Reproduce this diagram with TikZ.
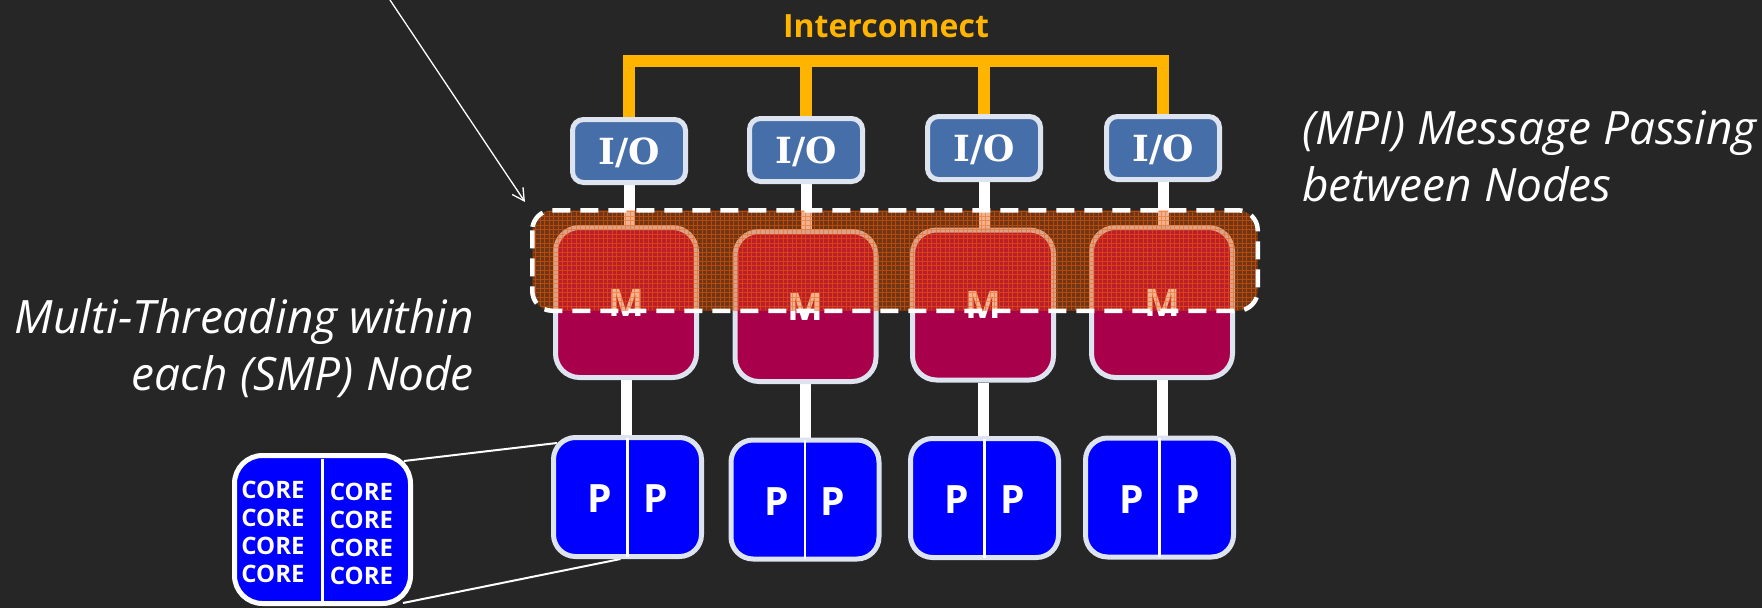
\documentclass[tikz,border=0pt]{standalone}
\usepackage{fontspec}
\setmainfont{Open Sans}
\newfontfamily\iofont{DejaVu Serif}
\usetikzlibrary{arrows.meta,backgrounds,calc}
\definecolor{bgc}{RGB}{38,38,38}
\definecolor{busc}{RGB}{255,180,0}
\definecolor{iofill}{RGB}{70,110,168}
\definecolor{boxedge}{RGB}{221,227,239}
\definecolor{memfill}{RGB}{168,0,75}
\definecolor{pfill}{RGB}{0,0,255}
\definecolor{ovfill}{RGB}{210,75,0}
\definecolor{ovgrid}{RGB}{255,95,0}
\begin{document}
\begin{tikzpicture}[x=1pt,y=-1pt,
  iobox/.style={draw=boxedge, line width=5pt, fill=iofill, rounded corners=11pt,
    minimum width=113pt, minimum height=63pt, inner sep=0pt, text depth=0pt, text=white,
    font=\iofont\bfseries\fontsize{36}{36}\selectfont},
  membox/.style={draw=boxedge, line width=5pt, fill=memfill, rounded corners=24pt,
    minimum width=141pt, minimum height=150pt, inner sep=0pt, text=white,
    font=\bfseries\fontsize{38}{38}\selectfont},
  procbox/.style={draw=boxedge, line width=5pt, fill=pfill, rounded corners=22pt,
    minimum width=148pt, minimum height=119pt, inner sep=0pt},
  corebox/.style={draw=white, line width=5pt, fill=pfill, rounded corners=28pt,
    minimum width=176pt, minimum height=148pt, inner sep=0pt},
  plabel/.style={text=white, font=\bfseries\fontsize{39}{39}\selectfont, inner sep=0pt},
  corecol/.style={text=white, font=\bfseries\fontsize{24}{28}\selectfont, inner sep=0pt, align=center},
  divider/.style={draw=white, line width=2.5pt},
  wire/.style={draw=white, line width=11pt},
  bus/.style={draw=busc, line width=12pt, line join=miter},
  zoomline/.style={draw=white, line width=2pt},
  pointer/.style={draw=white, line width=1.3pt, -{Straight Barb[length=12pt,width=13pt]}},
  note/.style={text=white, inner sep=0pt, font=\itshape\fontsize{46}{57}\selectfont},
  ovlbox/.style={line width=4.5pt, rounded corners=20pt,
    minimum width=725.5pt, minimum height=100.5pt, inner sep=0pt,
    fill=ovfill, fill opacity=0.42},
  ovlborder/.style={draw=white, line width=4.5pt, dash pattern=on 18pt off 10pt, rounded corners=20pt},
  ovlgrid/.style={draw=ovgrid, line width=0.7pt, opacity=0.5}
]
\useasboundingbox (0,0) rectangle (1762,608);

% boxes
\foreach \i/\ix/\iy/\mx/\my/\px/\py in {1/629/151/626/302.5/627.5/497,
                                        2/806/150/805.5/306.5/805/499.5,
                                        3/984/148/983/305/984.5/498,
                                        4/1163/148/1162/302.5/1159.5/497.5}{
  \node[iobox] (io\i) at (\ix,\iy) {I/O};
  \node[membox] (m\i) at (\mx,\my) {M};
  \node[procbox] (p\i) at (\px,\py) {};
  \draw[divider] ($(p\i.north)+(0,2.5)$) -- ($(p\i.south)+(0,-2.5)$);
  \node[plabel] (pa\i) at ($(p\i.center)+(-28,2)$) {P};
  \node[plabel] (pb\i) at ($(p\i.center)+(28,2)$) {P};
}

\node[corebox] (core) at (322.5,529.5) {};
\draw[divider] ($(core.north)+(0,6)$) -- ($(core.south)+(0,-4)$);
\node[corecol] (corel) at (273,532) {CORE\\CORE\\CORE\\CORE};
\node[corecol] (corer) at (361.5,534) {CORE\\CORE\\CORE\\CORE};

% connectors (behind)
\coordinate (bustop) at (886,61);
\begin{scope}[on background layer]
  \fill[bgc] (0,0) rectangle (1762,608);
  \draw[bus] (io1.north) |- (bustop) -| (io4.north);
  \draw[bus] (io2.north) -- (io2.north |- bustop);
  \draw[bus] (io3.north) -- (io3.north |- bustop);
  \foreach \i in {1,2,3,4}{
    \draw[wire] (io\i.south) -- (io\i.south |- m\i.north);
    \draw[wire] (m\i.south) -- (m\i.south |- p\i.north);
  }
  \draw[zoomline] ($(core.north east)+(-9,8)$) -- ($(p1.north west)+(6,8)$);
  \draw[zoomline] ($(core.south east)+(-10,-3)$) -- ($(p1.south)+(-7,0)$);
\end{scope}

% shared-memory overlay
\node[ovlbox] (ovl) at (895,260.5) {};
\begin{scope}
  \clip[rounded corners=18pt] ($(ovl.north west)+(3,3)$) rectangle ($(ovl.south east)+(-3,-3)$);
  \draw[ovlgrid, step=4.5pt] (ovl.north west) grid (ovl.south east);
\end{scope}
\draw[ovlborder] ($(ovl.north west)+(2.25,2.25)$) rectangle ($(ovl.south east)+(-2.25,-2.25)$);

\coordinate (arrstart) at (390,0);
\draw[pointer] (arrstart) -- ($(ovl.north west)+(-5,-6)$);

% texts
\node[anchor=base, text=busc, inner sep=0pt, font=\bfseries\fontsize{32}{32}\selectfont] (ictext) at (886,37) {Interconnect};
\node[note, anchor=base east, align=right] (mt) at (474,390) {Multi-Threading within\\each (SMP) Node};
\node[note, anchor=base west, align=left] (mpi) at (1302,201) {(MPI) Message Passing\\between Nodes};
\end{tikzpicture}
\end{document}
